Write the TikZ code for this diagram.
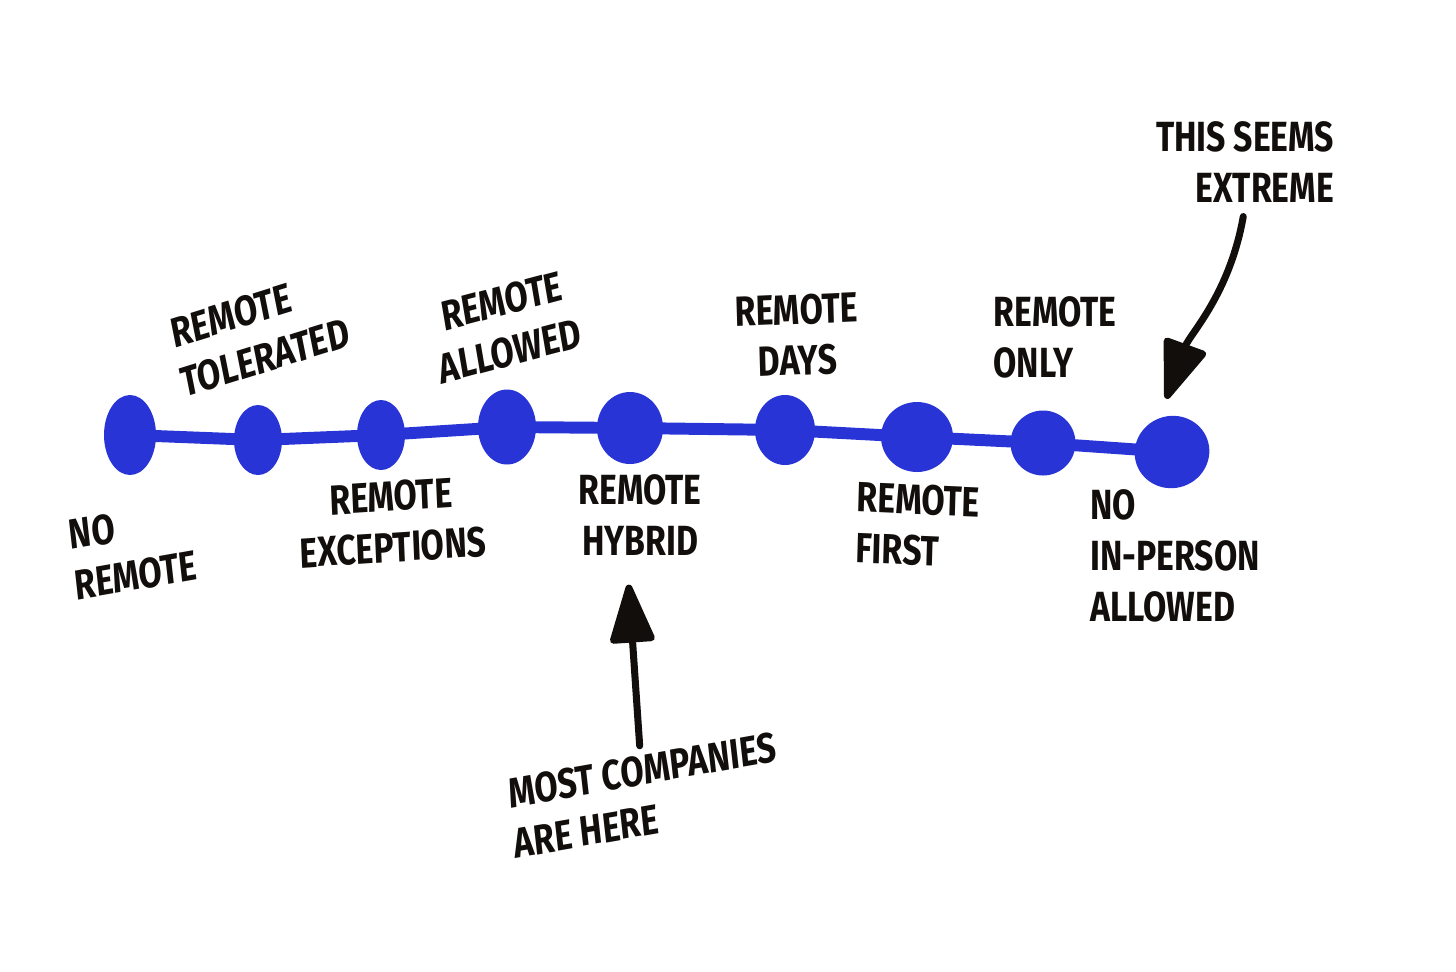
\documentclass[tikz,border=0pt]{standalone}
\usepackage{fontspec}
\setmainfont{Fira Sans}
\usetikzlibrary{arrows.meta,shapes}
\definecolor{inkblue}{RGB}{40,52,214}
\definecolor{inkblack}{RGB}{17,14,12}

\begin{document}
\begin{tikzpicture}[x=0.1mm, y=-0.1mm,
        dot/.style={ellipse, fill=inkblue, inner sep=0pt},
        hand/.style={font=\fontsize{12}{14.5}\selectfont\bfseries, text=inkblack, xscale=0.8, inner sep=1pt},
        track/.style={line width=3.4pt, inkblue, line cap=round},
        pointer/.style={line width=2pt, inkblack, line cap=round, -{Triangle[length=6.5mm, width=4.6mm, round]}}
    ]
        \useasboundingbox (0,0) rectangle (1456,971);

        % 1. The dots along the scale
        \node[dot, minimum width=5.2mm, minimum height=8mm] (d1) at (130,435) {};
        \node[dot, minimum width=4.8mm, minimum height=7mm] (d2) at (258,440) {};
        \node[dot, minimum width=4.8mm, minimum height=7mm] (d3) at (381,435) {};
        \node[dot, minimum width=5.8mm, minimum height=7.5mm] (d4) at (507,427) {};
        \node[dot, minimum width=6.6mm, minimum height=7.2mm] (d5) at (630,428) {};
        \node[dot, minimum width=6mm, minimum height=7mm] (d6) at (785,430) {};
        \node[dot, minimum width=7.2mm, minimum height=7mm] (d7) at (917,437) {};
        \node[dot, minimum width=6.5mm, minimum height=6.5mm] (d8) at (1043,443) {};
        \node[dot, minimum width=7.5mm, minimum height=7.2mm, rotate=20] (d9) at (1172,452) {};

        % 2. The line joining them
        \draw[track] (d1.center) -- (d2.center) -- (d3.center) -- (d4.center) -- (d5.center)
            -- (d6.center) -- (d7.center) -- (d8.center) -- (d9.center);

        % 3. Labels above and below
        \node[hand, align=left, rotate=8] (norem) at (133,550) {NO\\REMOTE};
        \node[hand, align=left, rotate=14] (toler) at (260,333) {REMOTE\\TOLERATED};
        \node[hand, align=center, rotate=3] (excep) at (392,522) {REMOTE\\EXCEPTIONS};
        \node[hand, align=center, rotate=12] (allow) at (506,326) {REMOTE\\ALLOWED};
        \node[hand, align=center] (hybrid) at (640,515) {REMOTE\\HYBRID};
        \node[hand, align=center, rotate=2] (days) at (797,335) {REMOTE\\DAYS};
        \node[hand, align=left, rotate=-2] (first) at (918,525) {REMOTE\\FIRST};
        \node[hand, align=left] (only) at (1055,337) {REMOTE\\ONLY};
        \node[hand, align=left] (noinp) at (1175,556) {NO\\IN-PERSON\\ALLOWED};

        % 4. Comments with their arrows
        \node[hand, align=right] (xtrm) at (1245,162) {THIS SEEMS\\EXTREME};
        \node[hand, align=left, rotate=8] (most) at (645,795) {MOST COMPANIES\\ARE HERE};

        \draw[pointer, shorten <=1mm, shorten >=2mm] (xtrm.south) to[out=-100, in=70] (d9.north);
        \draw[pointer, shorten <=0.5mm, shorten >=2.5mm] (most.north) -- (hybrid.250);

    \end{tikzpicture}
\end{document}
